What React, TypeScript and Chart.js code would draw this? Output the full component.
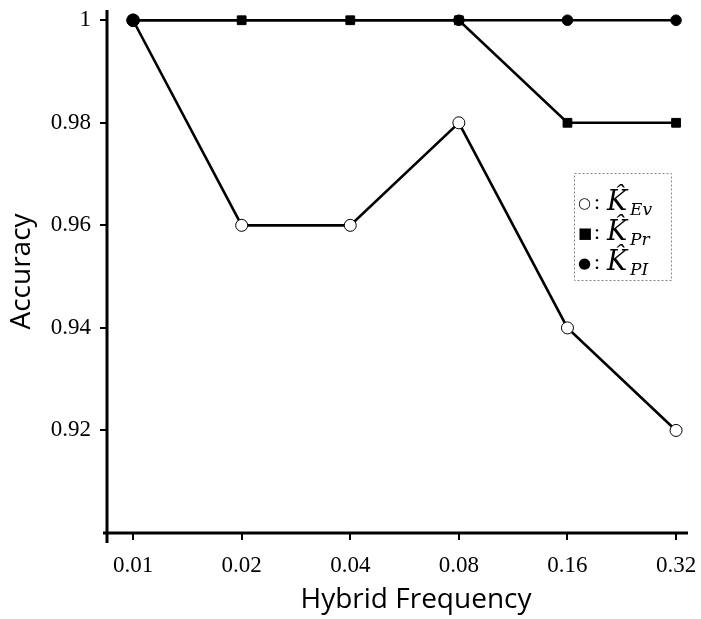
import React, { useEffect, useRef } from "react";
import { Chart, registerables } from "chart.js";

Chart.register(...registerables);

const categories = ["0.01", "0.02", "0.04", "0.08", "0.16", "0.32"];
const evValues = [1, 0.96, 0.96, 0.98, 0.94, 0.92];
const prValues = [1, 1, 1, 1, 0.98, 0.98];
const piValues = [1, 1, 1, 1, 1, 1];
const yTickValues = [0.92, 0.94, 0.96, 0.98, 1];
const legendMarkers = ["○", "■", "●"];
const legendSubs = ["Ev", "Pr", "PI"];
const xTitle = "Hybrid Frequency";
const yTitle = "Accuracy";

const toPoints = (vals: number[]) => vals.map((v, i) => ({ x: i, y: v }));

const extrasPlugin = {
  id: "extras",
  beforeDatasetsDraw(chart: any) {
    const { ctx, chartArea } = chart;
    const { left, right, top, bottom } = chartArea;
    ctx.save();
    ctx.strokeStyle = "#000";
    ctx.lineWidth = 3;
    ctx.beginPath();
    ctx.moveTo(left, top);
    ctx.lineTo(left, bottom + 10);
    ctx.stroke();
    ctx.beginPath();
    ctx.moveTo(left - 4, bottom);
    ctx.lineTo(right, bottom);
    ctx.stroke();
    ctx.restore();
  },
  afterDraw(chart: any) {
    const { ctx } = chart;
    ctx.save();
    ctx.fillStyle = "#000";
    ctx.font = "28px 'Open Sans'";
    ctx.textAlign = "center";
    ctx.textBaseline = "middle";
    ctx.fillText(xTitle, 416, 600);

    ctx.strokeStyle = "#888";
    ctx.lineWidth = 1;
    ctx.setLineDash([2, 2]);
    ctx.strokeRect(574.5, 173.5, 97, 107);
    ctx.setLineDash([]);
    const baselines = [210, 240, 270];
    ctx.textAlign = "left";
    ctx.textBaseline = "alphabetic";
    for (let i = 0; i < 3; i++) {
      const b = baselines[i];
      ctx.font = "15px 'DejaVu Sans'";
      ctx.fillText(legendMarkers[i], 578, b - 2);
      ctx.font = "22px 'Liberation Serif'";
      ctx.fillText(":", 594, b - 1);
      ctx.font = "italic 27px 'DejaVu Serif'";
      ctx.fillText("K\u0302", 607, b);
      ctx.font = "italic 17px 'DejaVu Serif'";
      ctx.fillText(legendSubs[i], 630, b + 5);
    }
    ctx.restore();
  },
};

export default function App() {
  const ref = useRef<HTMLCanvasElement | null>(null);
  useEffect(() => {
    if (!ref.current) return;
    const chart = new Chart(ref.current, {
      type: "line",
      data: {
        datasets: [
          {
            label: "PI",
            data: toPoints(piValues),
            borderColor: "#000",
            borderWidth: 2.6,
            pointStyle: "circle",
            pointRadius: [6.3, 4, 4, 5.3, 5.3, 5.3],
            pointBackgroundColor: "#000",
            pointBorderColor: "#000",
            pointBorderWidth: 1,
            tension: 0,
          },
          {
            label: "Pr",
            data: toPoints(prValues),
            borderColor: "#000",
            borderWidth: 2.6,
            pointStyle: "rect",
            pointRadius: 6.2,
            pointBackgroundColor: "#000",
            pointBorderColor: "#000",
            pointBorderWidth: 1,
            tension: 0,
          },
          {
            label: "Ev",
            data: toPoints(evValues),
            borderColor: "#000",
            borderWidth: 2.6,
            pointStyle: "circle",
            pointRadius: 6,
            pointBackgroundColor: "#fff",
            pointBorderColor: "#000",
            pointBorderWidth: 1,
            tension: 0,
          },
        ],
      },
      options: {
        responsive: false,
        animation: false,
        events: [],
        layout: { padding: { top: 10, right: 13, left: 0, bottom: 0 } },
        plugins: { legend: { display: false }, tooltip: { enabled: false } },
        scales: {
          x: {
            type: "linear",
            min: -0.24,
            max: 5.11,
            afterBuildTicks: (s: any) => {
              s.ticks = categories.map((_, i) => ({ value: i }));
            },
            afterFit: (s: any) => {
              s.height = 86;
              s.paddingLeft = 0;
              s.paddingRight = 0;
            },
            ticks: {
              callback: (v: any) => categories[v] ?? "",
              color: "#000",
              font: { family: "'Liberation Serif'", size: 23 },
              padding: 12,
              maxRotation: 0,
              autoSkip: false,
            },
            grid: {
              drawOnChartArea: false,
              drawTicks: true,
              tickLength: 7,
              color: "#000",
              lineWidth: 2,
            },
            border: { display: false },
          },
          y: {
            type: "linear",
            min: 0.9,
            max: 1.002,
            afterBuildTicks: (s: any) => {
              s.ticks = yTickValues.map((v) => ({ value: v }));
            },
            afterFit: (s: any) => {
              s.width = 107;
              s.paddingTop = 0;
              s.paddingBottom = 0;
            },
            ticks: {
              callback: (v: any) => (v === 1 ? "1" : Number(v).toFixed(2)),
              color: "#000",
              font: { family: "'Liberation Serif'", size: 23 },
              padding: 9,
              autoSkip: false,
            },
            grid: {
              drawOnChartArea: false,
              drawTicks: true,
              tickLength: 7,
              color: "#000",
              lineWidth: 2,
            },
            border: { display: false },
            title: {
              display: true,
              text: yTitle,
              color: "#000",
              font: { family: "'Open Sans'", size: 28 },
              padding: { top: 5, bottom: 0 },
            },
          },
        },
      },
      plugins: [extrasPlugin],
    });
    return () => chart.destroy();
  }, []);
  return (
    <div style={{ position: "absolute", left: 0, top: 0, width: 701, height: 619, background: "#fff" }}>
      <canvas ref={ref} width={701} height={619} />
    </div>
  );
}
